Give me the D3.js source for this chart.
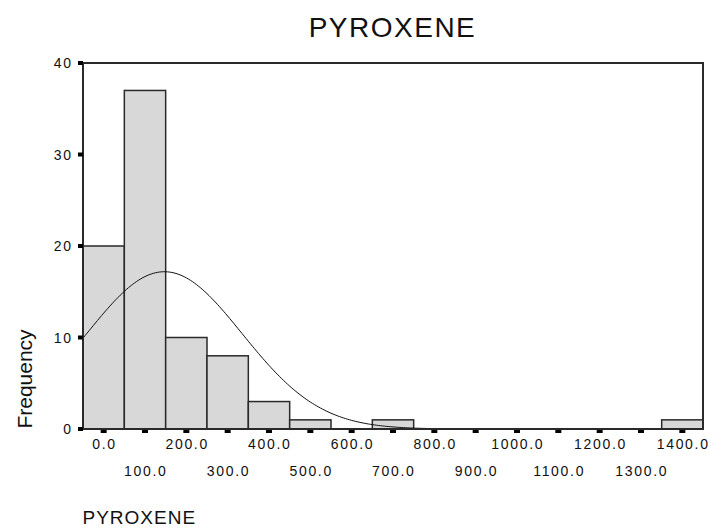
<!DOCTYPE html>
<html><head><meta charset="utf-8">
<script src="https://cdn.jsdelivr.net/npm/d3@7"></script>
<style>body{margin:0;background:#fff}svg{display:block}text{font-family:"Liberation Sans",Arial,sans-serif;fill:#111}</style>
</head><body>
<svg id="c" width="721" height="529"></svg>
<script>
const binCenters = [0,100,200,300,400,500,600,700,800,900,1000,1100,1200,1300,1400];
const frequencies = [20,37,10,8,3,1,0,1,0,0,0,0,0,0,1];
const yTicks = [0,10,20,30,40];
const xTickLabels = ["0.0","100.0","200.0","300.0","400.0","500.0","600.0","700.0","800.0","900.0","1000.0","1100.0","1200.0","1300.0","1400.0"];
const curveMean = 147, curveSd = 188, curveN = 81, binWidth = 100;

const svg = d3.select("#c");
const L=83, R=703, T=63, B=429;
const x = d3.scaleLinear().domain([-50,1450]).range([L,R]);
const y = d3.scaleLinear().domain([0,40]).range([B,T]);
const ls = 1.7;

// bars
svg.append("g").selectAll("rect").data(binCenters).join("rect")
  .attr("x", d=>x(d-binWidth/2)).attr("width", d=>x(d+binWidth/2)-x(d-binWidth/2))
  .attr("y", (d,i)=>y(frequencies[i])).attr("height",(d,i)=>B-y(frequencies[i]))
  .attr("fill","#d8d8d8").attr("stroke","#2a2a2a").attr("stroke-width",1.5)
  .attr("display",(d,i)=>frequencies[i]>0?null:"none");

// normal curve
const pts = d3.range(-50,1450.1,5).map(v=>[v, curveN*binWidth/(curveSd*Math.sqrt(2*Math.PI))*Math.exp(-0.5*((v-curveMean)/curveSd)**2)]);
svg.append("path").attr("d", d3.line().x(d=>x(d[0])).y(d=>y(d[1]))(pts))
  .attr("fill","none").attr("stroke","#111").attr("stroke-width",1);

// frame
svg.append("path").attr("d",`M${L},${B}V${T}H${R}V${B}H${L}`).attr("fill","none").attr("stroke","#2a2a2a").attr("stroke-width",2);

// y ticks
const gy = svg.append("g");
gy.selectAll("rect").data(yTicks).join("rect").attr("x",L-5).attr("y",d=>y(d)-2).attr("width",5).attr("height",4).attr("fill","#000");
gy.selectAll("text").data(yTicks).join("text").attr("x",71+ls).attr("y",d=>y(d)+5)
  .attr("text-anchor","end").attr("font-size",14).attr("letter-spacing",ls).text(d=>d);

// x ticks
const gx = svg.append("g");
gx.selectAll("rect").data(binCenters).join("rect").attr("x",d=>x(d)-3).attr("y",B+1).attr("width",6).attr("height",3).attr("fill","#000");
gx.selectAll("text").data(binCenters).join("text").attr("x",d=>x(d)+ls/2).attr("y",(d,i)=>i%2===0?449:475.5)
  .attr("text-anchor","middle").attr("font-size",14).attr("letter-spacing",ls).text((d,i)=>xTickLabels[i]);

svg.append("text").attr("x",392.5).attr("y",36.5).attr("text-anchor","middle").attr("font-size",28).attr("letter-spacing",1.5).text("PYROXENE");
svg.append("text").attr("transform","translate(32,379) rotate(-90)").attr("text-anchor","middle").attr("font-size",21).text("Frequency");
svg.append("text").attr("x",82.5).attr("y",524).attr("font-size",19).attr("letter-spacing",1).text("PYROXENE");
</script></body></html>
